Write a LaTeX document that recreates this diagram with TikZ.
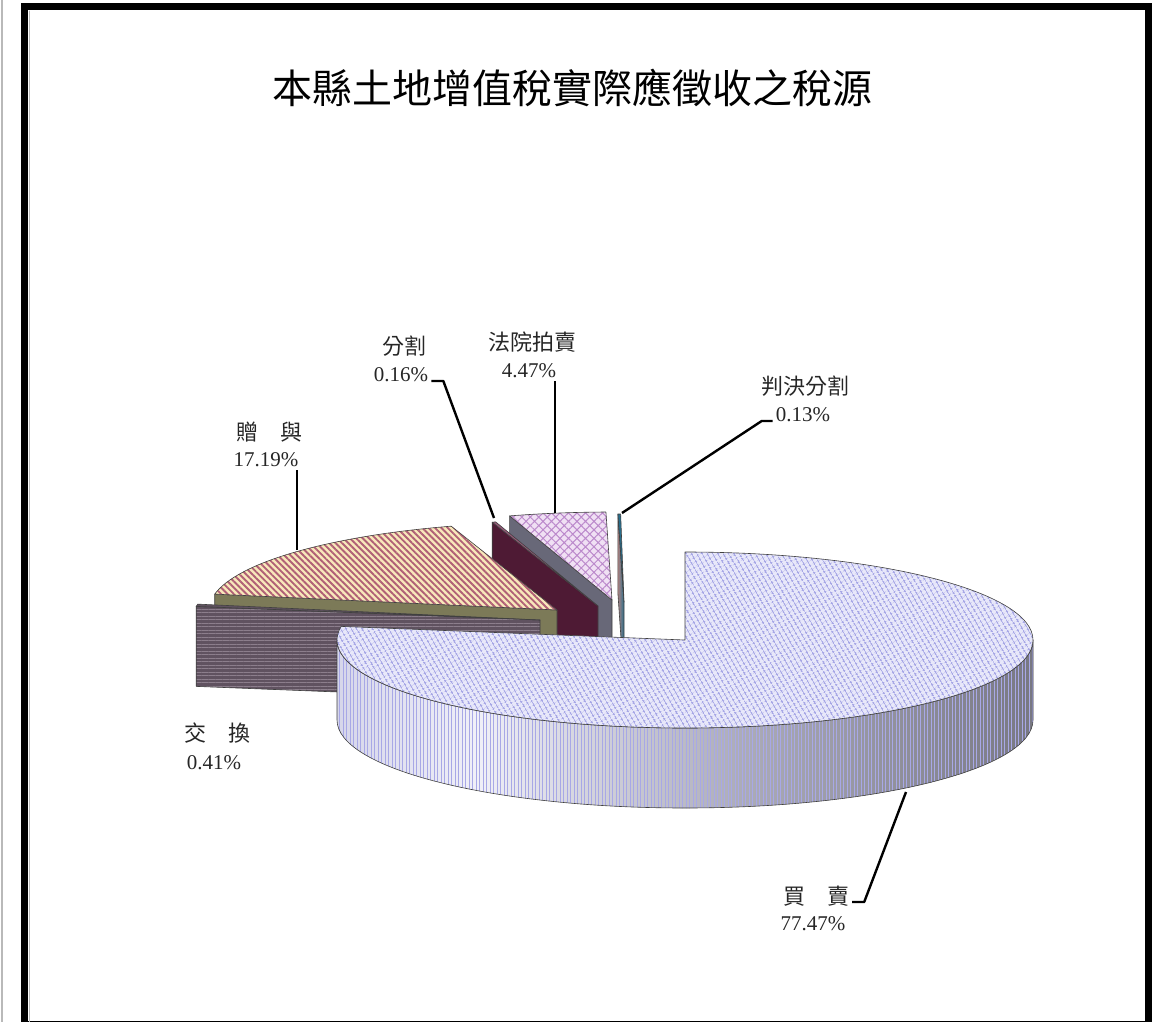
\documentclass[tikz,border=0pt]{standalone}
\usepackage{fontspec}
\setmainfont{Liberation Serif}
\newfontfamily\cjk{Noto Sans CJK TC}
\usetikzlibrary{patterns.meta}
\definecolor{mmtop}{RGB}{232,232,250}
\definecolor{mmdot}{RGB}{168,168,230}
\definecolor{mmA}{RGB}{214,214,234}
\definecolor{mmB}{RGB}{240,240,248}
\definecolor{mmC}{RGB}{172,172,184}
\definecolor{mmD}{RGB}{120,120,130}
\definecolor{zytop}{RGB}{248,232,186}
\definecolor{zyline}{RGB}{176,96,118}
\definecolor{zyface}{RGB}{124,122,88}
\definecolor{jhface}{RGB}{96,82,96}
\definecolor{jhline}{RGB}{140,126,140}
\definecolor{fgface}{RGB}{78,26,52}
\definecolor{fgtop}{RGB}{150,90,120}
\definecolor{fytop}{RGB}{240,224,244}
\definecolor{fyline}{RGB}{188,138,204}
\definecolor{fyface}{RGB}{104,104,120}
\definecolor{pjface}{RGB}{170,130,130}
\definecolor{pjtop}{RGB}{40,110,140}
\pgfdeclarehorizontalshading{mmshade}{100bp}{color(0bp)=(mmA); color(25bp)=(mmA); color(35bp)=(mmB); color(54bp)=(mmC); color(75bp)=(mmD); color(100bp)=(mmD)}
\begin{document}
\begin{tikzpicture}[x=1pt,y=-1pt,line join=round,line cap=round,
    rim/.style={x radius=348pt,y radius=88pt},
    edge/.style={draw=black!75,line width=0.6pt},
    leader/.style={line width=2.4pt,line cap=butt},
    cjklabel/.style={font=\fontsize{22}{26}\cjk,text=black!85,inner sep=3pt},
    numlabel/.style={font=\fontsize{21}{25}\selectfont,text=black!85,inner sep=3pt},
    mmtopface/.style={edge,preaction={fill=mmtop},pattern={Hatch[angle=30,distance=4pt,line width=0.8pt]},pattern color=mmdot},
    mmwallface/.style={edge,preaction={shade,shading=mmshade},pattern={Lines[angle=90,distance=3.5pt,line width=0.8pt]},pattern color=mmdot},
    zytopface/.style={edge,preaction={fill=zytop},pattern={Lines[angle=-45,distance=4.5pt,line width=1.9pt]},pattern color=zyline},
    jhsideface/.style={edge,preaction={fill=jhface},pattern={Lines[angle=0,distance=3.5pt,line width=0.8pt]},pattern color=jhline},
    fytopface/.style={edge,preaction={fill=fytop},pattern={Hatch[angle=45,distance=6pt,line width=1pt]},pattern color=fyline}]
\useasboundingbox (0,0) rectangle (1159,1022);
% frame
\draw[gray!55,line width=2pt] (1.5,0) -- (1.5,1022);
\draw[line width=7pt,line cap=butt,line join=miter] (24.5,7) rectangle (1148.3,1024);
\draw[gray!55,line width=1pt] (29,11) -- (29,1022);
\node[font=\fontsize{40}{48}\cjk] (title) at (572,88) {本縣土地增值稅實際應徵收之稅源};
% slices, back to front
\draw[edge,left color=pjface,right color=pjtop] (624,602) -- ++(91:348pt and 88pt) -- ++(0,80) -- (624,682) -- cycle;
\draw[edge,fill=pjtop] (624,602) -- ++(91:348pt and 88pt) arc[rim,start angle=91,end angle=90.55] -- cycle;
\draw[edge,fill=fyface] (612,600) -- ++(107.1:348pt and 88pt) -- ++(0,80) -- (612,680) -- cycle;
\draw[fytopface] (612,600) -- ++(107.1:348pt and 88pt) arc[rim,start angle=107.1,end angle=91] -- cycle;
\draw[edge,fill=fgface] (598,606) -- ++(107.7:348pt and 88pt) -- ++(0,80) -- (598,686) -- cycle;
\draw[edge,fill=fgtop] (598,606) -- ++(107.7:348pt and 88pt) arc[rim,start angle=107.7,end angle=107.1] -- cycle;
\draw[edge,fill=zyface] (557,610) -- ++(169.6:348pt and 88pt) -- ++(0,80) -- (557,690) -- cycle;
\draw[zytopface] (557,610) -- ++(169.6:348pt and 88pt) arc[rim,start angle=169.6,end angle=107.7] -- cycle;
\draw[jhsideface] (540,620) -- ++(171.1:348pt and 88pt) -- ++(0,80) -- (540,700) -- cycle;
\draw[edge,fill=jhface] (540,620) -- ++(171.1:348pt and 88pt) arc[rim,start angle=171.1,end angle=169.6] -- cycle;
\draw[mmwallface] (685,640) ++(180:348pt and 88pt) arc[rim,start angle=180,end angle=360] -- ++(0,80) arc[rim,start angle=360,end angle=180] -- cycle;
\draw[mmtopface] (685,640) -- ++(90:348pt and 88pt) arc[rim,start angle=90,end angle=-188.9] -- cycle;
% labels
\node[cjklabel] (fgname) at (404,346) {分割};
\node[numlabel] (fgval) at (401,375) {0.16\%};
\node[cjklabel] (fyname) at (532,342) {法院拍賣};
\node[numlabel] (fyval) at (529,371) {4.47\%};
\node[cjklabel] (pjname) at (805,386) {判決分割};
\node[numlabel] (pjval) at (803,415) {0.13\%};
\node[cjklabel] (zyname) at (269,432) {贈　與};
\node[numlabel] (zyval) at (266,460) {17.19\%};
\node[cjklabel] (jhname) at (217,733) {交　換};
\node[numlabel] (jhval) at (214,763) {0.41\%};
\node[cjklabel] (mmname) at (816,896) {買　賣};
\node[numlabel] (mmval) at (813,924) {77.47\%};
% leaders
\coordinate (fgtip) at (494,518);
\coordinate (fytip) at (555,513);
\coordinate (pjtip) at (622,513);
\coordinate (zytip) at (297,550);
\coordinate (mmtip) at (906,792);
\draw[leader] ([yshift=-6pt]fgval.east) -- ++(12,0) -- (fgtip);
\draw[leader] (fytip) -- (fytip |- fyval.south);
\draw[leader] ([yshift=-6pt]pjval.west) -- ++(-11,0) -- (pjtip);
\draw[leader] (zytip) -- (zytip |- zyval.south);
\draw[leader] ([yshift=-6pt]mmname.east) -- ++(12,0) -- (mmtip);
\end{tikzpicture}
\end{document}
